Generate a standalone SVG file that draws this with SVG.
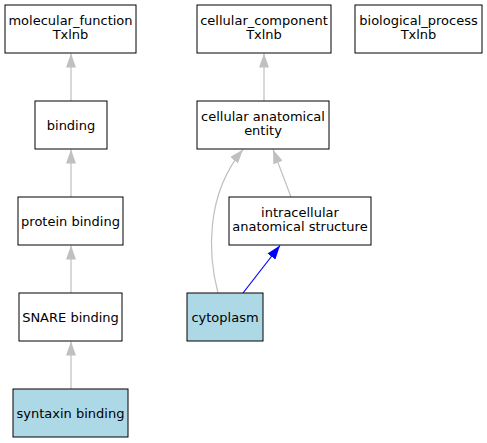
<svg xmlns="http://www.w3.org/2000/svg" width="487" height="443" viewBox="0 0 487 443">
<style>
.n rect{fill:#fff;stroke:#000;stroke-width:1}
.n.h rect{fill:#add8e6}
text{font-family:"DejaVu Sans",sans-serif;font-size:13px;fill:#000;text-anchor:middle}
.e{fill:none;stroke:#c0c0c0;stroke-width:1.2}
.b{fill:none;stroke:#0000ff;stroke-width:1.2}
</style>
<defs>
<marker id="ag" viewBox="0 0 14 10" refX="14" refY="5" markerWidth="14" markerHeight="10" markerUnits="userSpaceOnUse" orient="auto"><path d="M0,0L14,5L0,10Z" fill="#c0c0c0"/></marker>
<marker id="ab" viewBox="0 0 14 10" refX="14" refY="5" markerWidth="14" markerHeight="10" markerUnits="userSpaceOnUse" orient="auto"><path d="M0,0L14,5L0,10Z" fill="#0000ff"/></marker>
</defs>
<rect width="487" height="443" fill="#fff"/>
<g id="edges">
<path class="e" d="M71,101V53.5" marker-end="url(#ag)"/>
<path class="e" d="M71,197V149.5" marker-end="url(#ag)"/>
<path class="e" d="M71,293V245.5" marker-end="url(#ag)"/>
<path class="e" d="M71,389V341.5" marker-end="url(#ag)"/>
<path class="e" d="M264,101V53.5" marker-end="url(#ag)"/>
<path class="e" d="M291,197L273,149.5" marker-end="url(#ag)"/>
<path class="e" d="M218,293C208,255 205,195 243,149.5" marker-end="url(#ag)"/>
<path class="b" d="M243,293L280,245.5" marker-end="url(#ab)"/>
</g>
<g id="molecular_function" class="n"><rect x="5" y="5" width="131" height="48"/><text x="70.5" y="25">molecular_function</text><text x="70.5" y="39">Txlnb</text></g>
<g id="cellular_component" class="n"><rect x="197" y="5" width="134" height="48"/><text x="264" y="25">cellular_component</text><text x="264" y="39">Txlnb</text></g>
<g id="biological_process" class="n"><rect x="355" y="5" width="127" height="48"/><text x="418.5" y="25">biological_process</text><text x="418.5" y="39">Txlnb</text></g>
<g id="binding" class="n"><rect x="35" y="101" width="72" height="48"/><text x="71" y="129.5">binding</text></g>
<g id="cellular_anatomical_entity" class="n"><rect x="197" y="101" width="132" height="48"/><text x="263" y="121">cellular anatomical</text><text x="263" y="135">entity</text></g>
<g id="protein_binding" class="n"><rect x="18" y="197" width="105" height="48"/><text x="70.5" y="225.5">protein binding</text></g>
<g id="intracellular_anatomical_structure" class="n"><rect x="229" y="197" width="142" height="48"/><text x="300" y="217">intracellular</text><text x="300" y="231">anatomical structure</text></g>
<g id="SNARE_binding" class="n"><rect x="19" y="293" width="103" height="48"/><text x="70.5" y="321.5">SNARE binding</text></g>
<g id="cytoplasm" class="n h"><rect x="187" y="293" width="76" height="48"/><text x="225" y="321.5">cytoplasm</text></g>
<g id="syntaxin_binding" class="n h"><rect x="13" y="389" width="115" height="48"/><text x="70.5" y="417.5">syntaxin binding</text></g>
</svg>
